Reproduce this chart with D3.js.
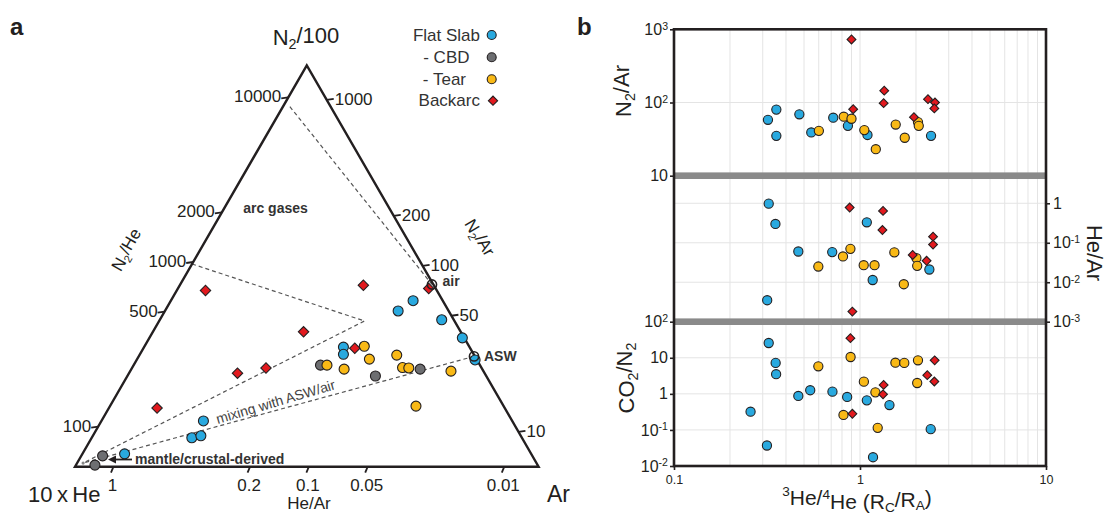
<!DOCTYPE html>
<html>
<head>
<meta charset="utf-8">
<script src="https://cdn.jsdelivr.net/npm/d3@7"></script>
<style>
  body { margin: 0; background: #fff; }
  svg { display: block; font-family: "Liberation Sans", Arial, sans-serif; }
</style>
</head>
<body>
<svg id="fig" width="1107" height="515"></svg>
<script>
// ---------- Panel a: ternary compositions, fractions [N2/100, 10xHe, Ar] ----------
const flatSlabTern = [
  [0.414, 0.064, 0.523], [0.388, 0.109, 0.503], [0.366, 0.026, 0.608],
  [0.321, 0.004, 0.675], [0.266, 0.004, 0.730], [0.298, 0.272, 0.430],
  [0.280, 0.281, 0.439], [0.114, 0.666, 0.220], [0.072, 0.712, 0.216],
  [0.077, 0.690, 0.233], [0.032, 0.877, 0.091]
];
const cbdTern = [
  [0.253, 0.344, 0.403], [0.226, 0.239, 0.535], [0.243, 0.134, 0.623],
  [0.027, 0.927, 0.046], [0.004, 0.955, 0.041]
];
const tearTern = [
  [0.300, 0.226, 0.474], [0.253, 0.330, 0.417], [0.243, 0.298, 0.459],
  [0.268, 0.231, 0.501], [0.278, 0.167, 0.555], [0.247, 0.170, 0.583],
  [0.246, 0.157, 0.597], [0.238, 0.070, 0.692], [0.151, 0.189, 0.660]
];
const backarcTern = [
  [0.439, 0.499, 0.062], [0.452, 0.152, 0.396], [0.444, 0.015, 0.541],
  [0.336, 0.339, 0.325], [0.295, 0.249, 0.456], [0.233, 0.533, 0.234],
  [0.246, 0.465, 0.289], [0.146, 0.750, 0.104]
];
// reference end-members as ratios to Ar
const airRatios = { n2ar: 83.6, hear: 0.00056 };
const aswRatios = { n2ar: 38.0, hear: 0.00026 };
// mixing-field vertices [N2/100, 10xHe, Ar]
const arcEndMember = [0.897, 0.088, 0.015];
const arcFieldEdge = [0.505, 0.495, 0.0];
const arcFieldApex = [0.363, 0.194, 0.443];
const mantleEndMember = [0.009, 0.978, 0.013];

// edge tick values
const n2heTicks = [10000, 2000, 1000, 500, 100];
const n2arEdgeTicks = [1000, 200, 100, 50, 10];
const hearEdgeTicks = [1, 0.2, 0.1, 0.05, 0.01];
const hearEdgeLabels = ["1", "0.2", "0.1", "0.05", "0.01"];

// ---------- Panel b: [3He/4He (Rc/Ra), value] ----------
const flatSlabN2Ar = [[0.32, 58], [0.355, 80], [0.355, 35], [0.472, 69], [0.547, 39],
  [0.718, 62], [0.861, 48], [1.097, 36], [2.41, 35]];
const tearN2Ar = [[0.601, 41], [0.818, 64], [0.90, 60], [1.055, 42], [1.216, 23],
  [1.556, 50], [1.74, 33], [2.05, 54], [2.07, 48]];
const backarcN2Ar = [[0.90, 726], [0.919, 81], [1.35, 145], [1.34, 98], [1.95, 63],
  [2.32, 111], [2.53, 100], [2.51, 83]];

const flatSlabHeAr = [[0.323, 0.98], [0.351, 0.30], [0.466, 0.060], [0.709, 0.058],
  [1.088, 0.33], [1.17, 0.0114], [2.36, 0.021], [0.317, 0.0035]];
const tearHeAr = [[0.597, 0.025], [0.81, 0.045], [0.888, 0.07], [1.047, 0.027],
  [1.197, 0.027], [1.53, 0.057], [1.72, 0.0089], [2.01, 0.041], [2.03, 0.026]];
const backarcHeAr = [[0.88, 0.78], [1.33, 0.64], [1.32, 0.21], [2.47, 0.143],
  [2.47, 0.090], [1.92, 0.049], [2.28, 0.035], [0.91, 0.0018]];

const flatSlabCO2N2 = [[0.323, 25.7], [0.352, 7.2], [0.354, 3.5], [0.466, 0.875],
  [0.54, 1.26], [0.711, 1.15], [0.853, 0.82], [1.088, 0.66], [1.44, 0.49],
  [0.258, 0.32], [0.316, 0.037], [1.175, 0.0175], [2.40, 0.105]];
const tearCO2N2 = [[0.597, 5.8], [0.89, 10.5], [1.049, 2.18], [1.21, 1.1],
  [0.815, 0.26], [1.245, 0.114], [1.55, 7.3], [1.73, 7.2], [2.05, 8.5], [2.03, 2.0]];
const backarcCO2N2 = [[0.888, 35], [1.34, 1.77], [1.33, 0.97], [2.30, 3.3],
  [2.52, 8.5], [2.51, 2.2], [0.91, 0.28]];

const xTicksB = [0.1, 1, 10];
const xGridB = [0.2, 0.3, 0.4, 0.5, 0.6, 0.7, 0.8, 0.9, 1, 2, 3, 4, 5, 6, 7, 8, 9];
const n2arTicks = [10, 100, 1000];
const hearTicks = [0.001, 0.01, 0.1, 1];
const co2n2Ticks = [0.01, 0.1, 1, 10, 100];
const n2arGrid = [100];
const hearGrid = [0.01, 0.1, 1];
const co2n2Grid = [0.1, 1, 10];

const legendLabels = ["Flat Slab", "- CBD", "- Tear", "Backarc"];
const colors = { flat: "#29A9DF", cbd: "#6D6E71", tear: "#F9B916", back: "#E2191E" };
const ink = "#231F20";

const svg = d3.select("#fig");

// ---------- helpers ----------
function diamondPath(area) {
  return d3.symbol(d3.symbolSquare, area)();
}
function drawMarks(g, pts, fx, fy, color, shape, r) {
  if (shape === "circle") {
    g.selectAll(null).data(pts).join("circle")
      .attr("cx", d => fx(d)).attr("cy", d => fy(d)).attr("r", r)
      .attr("fill", color).attr("stroke", ink).attr("stroke-width", 1.1);
  } else {
    g.selectAll(null).data(pts).join("path")
      .attr("d", diamondPath(2 * r * r))
      .attr("transform", d => `translate(${fx(d)},${fy(d)}) rotate(45)`)
      .attr("fill", color).attr("stroke", ink).attr("stroke-width", 1.1);
  }
}
function subText(t, parts, subDrop) {
  // parts: [text, mode] mode: "n" normal, "sub", "sup"
  const drop = subDrop === undefined ? 0.3 : subDrop;
  let shift = 0;
  parts.forEach(([s, m]) => {
    const target = m === "sub" ? drop : m === "sup" ? -0.45 : 0;
    const ts = t.append("tspan").text(s).attr("dy", (target - shift) + "em");
    if (m !== "n") ts.attr("font-size", "0.65em");
    shift = target;
  });
}

// ---------- Panel a ----------
const A = svg.append("g");
const triX = d3.scaleLinear().domain([0, 1]).range([75, 538.6]);
const triY = d3.scaleLinear().domain([0, 1]).range([466.7, 65.3]);
function tern(p) {
  const s = p[0] + p[1] + p[2];
  const a = p[0] / s, c = p[2] / s;
  return [triX(c + a / 2), triY(a)];
}
function fromRatios(r) { return [r.n2ar / 100, 10 * r.hear, 1]; }

// dashed mixing lines
const dashed = A.append("g").attr("fill", "none").attr("stroke", "#555")
  .attr("stroke-width", 1.2).attr("stroke-dasharray", "4,3");
const line = d3.line();
dashed.append("path").attr("d", line([tern(arcEndMember), tern(fromRatios(airRatios))]));
dashed.append("path").attr("d", line([tern(arcFieldEdge), tern(arcFieldApex), tern(mantleEndMember)]));
dashed.append("path").attr("d", line([tern(fromRatios(aswRatios)), tern(mantleEndMember)]));
A.append("circle").attr("cx", tern(mantleEndMember)[0]).attr("cy", tern(mantleEndMember)[1])
  .attr("r", 1.6).attr("fill", "#888");

// triangle outline
A.append("path")
  .attr("d", line([tern([1, 0, 0]), tern([0, 1, 0]), tern([0, 0, 1])]) + "Z")
  .attr("fill", "none").attr("stroke", ink).attr("stroke-width", 2.4).attr("stroke-linejoin", "miter");

// edge ticks
const leftTickScale = d3.scaleLog().domain([100, 10000]).range([0.10, 0.92]);
const rightTickScale = d3.scaleLog().domain([10, 1000]).range([0.087, 0.914]);
const bottomTickScale = d3.scaleLog().domain([0.01, 1]).range([0.926, 0.083]);
const tickG = A.append("g").attr("stroke", ink).attr("stroke-width", 1.8);
const tickT = A.append("g").attr("font-size", 17).attr("fill", ink);

n2heTicks.forEach(v => {
  const a = leftTickScale(v), p = tern([a, 1 - a, 0]);
  tickG.append("line").attr("x1", p[0]).attr("y1", p[1]).attr("x2", p[0] - 7).attr("y2", p[1] + 1);
  tickT.append("text").attr("x", p[0] - 7).attr("y", p[1] + 5).attr("text-anchor", "end").text(v);
});
n2arEdgeTicks.forEach(v => {
  const a = rightTickScale(v), p = tern([a, 0, 1 - a]);
  tickG.append("line").attr("x1", p[0]).attr("y1", p[1]).attr("x2", p[0] + 7).attr("y2", p[1] - 1);
  tickT.append("text").attr("x", p[0] + 8).attr("y", p[1] + 5).attr("text-anchor", "start").text(v);
});
hearEdgeTicks.forEach((v, i) => {
  const c = bottomTickScale(v), p = tern([0, 1 - c, c]);
  tickG.append("line").attr("x1", p[0]).attr("y1", p[1]).attr("x2", p[0] - 2.5).attr("y2", p[1] + 6);
  tickT.append("text").attr("x", p[0] - 1).attr("y", 491).attr("text-anchor", "middle").text(hearEdgeLabels[i]);
});

// data marks
const tx = d => tern(d)[0], ty = d => tern(d)[1];
drawMarks(A.append("g"), flatSlabTern, tx, ty, colors.flat, "circle", 5);
drawMarks(A.append("g"), cbdTern, tx, ty, colors.cbd, "circle", 5);
drawMarks(A.append("g"), tearTern, tx, ty, colors.tear, "circle", 5);
drawMarks(A.append("g"), backarcTern, tx, ty, colors.back, "diamond", 5.2);

// reference points
[airRatios, aswRatios].forEach(r => {
  const p = tern(fromRatios(r));
  A.append("circle").attr("cx", p[0]).attr("cy", p[1]).attr("r", 4.6)
    .attr("fill", "none").attr("stroke", ink).attr("stroke-width", 1.6);
});

// annotations
const ann = A.append("g").attr("font-weight", "bold").attr("font-size", 14).attr("fill", "#333");
ann.append("text").attr("x", 275.5).attr("y", 213).attr("text-anchor", "middle").text("arc gases");
ann.append("text").attr("x", 442.5).attr("y", 286).text("air");
ann.append("text").attr("x", 484).attr("y", 361).text("ASW");
ann.append("text").attr("x", 135).attr("y", 463.5).text("mantle/crustal-derived");
A.append("text").attr("transform", "translate(277,406.5) rotate(-16.5)")
  .attr("text-anchor", "middle").attr("font-size", 14).attr("fill", "#444").text("mixing with ASW/air");
// arrow toward the mantle end-member
A.append("line").attr("x1", 132).attr("y1", 459.5).attr("x2", 114).attr("y2", 459.5)
  .attr("stroke", ink).attr("stroke-width", 1.8);
A.append("path").attr("d", "M108,459.5 L116,455.5 L116,463.5 Z").attr("fill", ink);

// axis titles
const t1 = A.append("text").attr("x", 306).attr("y", 45).attr("text-anchor", "middle")
  .attr("font-size", 22).attr("fill", ink);
subText(t1, [["N", "n"], ["2", "sub"], ["/100", "n"]]);
A.append("text").attr("x", 28).attr("y", 501.5).attr("font-size", 22).attr("fill", ink)
  .text("10\u2009x\u2009He");
A.append("text").attr("x", 547).attr("y", 501.5).attr("font-size", 23).attr("fill", ink).text("Ar");
A.append("text").attr("x", 309).attr("y", 509).attr("text-anchor", "middle")
  .attr("font-size", 17).attr("fill", ink).text("He/Ar");
const t2 = A.append("text").attr("transform", "translate(132,253) rotate(-60)")
  .attr("text-anchor", "middle").attr("font-size", 17).attr("fill", ink);
subText(t2, [["N", "n"], ["2", "sub"], ["/He", "n"]]);
const t3 = A.append("text").attr("transform", "translate(474,241) rotate(60)")
  .attr("text-anchor", "middle").attr("font-size", 17).attr("fill", ink);
subText(t3, [["N", "n"], ["2", "sub"], ["/Ar", "n"]]);

// legend
const legShapes = [[colors.flat, "circle"], [colors.cbd, "circle"], [colors.tear, "circle"], [colors.back, "diamond"]];
const legY = [35, 57.3, 79.3, 100.7];
const legTextX = [480, 469.5, 466, 480];
legendLabels.forEach((lab, i) => {
  A.append("text").attr("x", legTextX[i]).attr("y", legY[i] + 5.5).attr("text-anchor", "end")
    .attr("font-size", 17).attr("fill", "#333").text(lab);
  drawMarks(A.append("g"), [0], () => i === 3 ? 493 : 491.7, () => legY[i], legShapes[i][0], legShapes[i][1], i === 3 ? 4.6 : 4.5);
});

svg.append("text").attr("x", 10).attr("y", 35).attr("font-size", 24).attr("font-weight", "bold")
  .attr("fill", ink).text("a");
svg.append("text").attr("x", 577).attr("y", 35).attr("font-size", 24).attr("font-weight", "bold")
  .attr("fill", ink).text("b");

// ---------- Panel b ----------
const B = svg.append("g");
const x0 = 674, x1 = 1046, yTop = 29.3, yBot = 466;
const xB = d3.scaleLog().domain([0.1, 10]).range([x0, x1]);
const yN2Ar = d3.scaleLog().domain([10, 1000]).range([175.7, yTop]);
const yHeAr = d3.scaleLog().domain([0.001, 5]).range([321.7, 175.7]);
const yCO2 = d3.scaleLog().domain([0.01, 100]).range([yBot, 321.7]);

// grid
const grid = B.append("g").attr("stroke", "#e4e4e4").attr("stroke-width", 1);
xGridB.forEach(v => grid.append("line").attr("x1", xB(v)).attr("x2", xB(v)).attr("y1", yTop).attr("y2", yBot));
n2arGrid.forEach(v => grid.append("line").attr("x1", x0).attr("x2", x1).attr("y1", yN2Ar(v)).attr("y2", yN2Ar(v)));
hearGrid.forEach(v => grid.append("line").attr("x1", x0).attr("x2", x1).attr("y1", yHeAr(v)).attr("y2", yHeAr(v)));
co2n2Grid.forEach(v => grid.append("line").attr("x1", x0).attr("x2", x1).attr("y1", yCO2(v)).attr("y2", yCO2(v)));

// separator bands between stacked panels
[yN2Ar(10), yHeAr(0.001)].forEach(y => {
  B.append("rect").attr("x", x0).attr("y", y - 3.3).attr("width", x1 - x0).attr("height", 6.6).attr("fill", "#8a8a8a");
});

// marks
drawMarks(B.append("g"), flatSlabN2Ar, d => xB(d[0]), d => yN2Ar(d[1]), colors.flat, "circle", 4.6);
drawMarks(B.append("g"), tearN2Ar, d => xB(d[0]), d => yN2Ar(d[1]), colors.tear, "circle", 4.6);
drawMarks(B.append("g"), backarcN2Ar, d => xB(d[0]), d => yN2Ar(d[1]), colors.back, "diamond", 4.4);
drawMarks(B.append("g"), flatSlabHeAr, d => xB(d[0]), d => yHeAr(d[1]), colors.flat, "circle", 4.6);
drawMarks(B.append("g"), tearHeAr, d => xB(d[0]), d => yHeAr(d[1]), colors.tear, "circle", 4.6);
drawMarks(B.append("g"), backarcHeAr, d => xB(d[0]), d => yHeAr(d[1]), colors.back, "diamond", 4.4);
drawMarks(B.append("g"), flatSlabCO2N2, d => xB(d[0]), d => yCO2(d[1]), colors.flat, "circle", 4.6);
drawMarks(B.append("g"), tearCO2N2, d => xB(d[0]), d => yCO2(d[1]), colors.tear, "circle", 4.6);
drawMarks(B.append("g"), backarcCO2N2, d => xB(d[0]), d => yCO2(d[1]), colors.back, "diamond", 4.4);

// frame
B.append("rect").attr("x", x0).attr("y", yTop).attr("width", x1 - x0).attr("height", yBot - yTop)
  .attr("fill", "none").attr("stroke", ink).attr("stroke-width", 2.6);

// axes
function powLabels(sel) {
  sel.selectAll(".tick text").each(function (d) {
    const t = d3.select(this);
    const e = Math.round(Math.log10(d));
    t.text(null);
    if (e === 0) t.text("1");
    else if (e === 1) t.text("10");
    else {
      t.append("tspan").text("10");
      t.append("tspan").attr("dy", "-0.5em").attr("font-size", "0.66em").text(e);
    }
  });
}
function styleAxis(g, size) {
  g.select(".domain").remove();
  g.attr("font-family", null).attr("font-size", size);
  g.selectAll(".tick line").attr("stroke", ink).attr("stroke-width", 1.6);
  g.selectAll(".tick text").attr("fill", ink);
}
const gN2 = B.append("g").attr("transform", `translate(${x0},0)`)
  .call(d3.axisLeft(yN2Ar).tickValues(n2arTicks).tickSize(4).tickPadding(2));
styleAxis(gN2, 16); powLabels(gN2);
const gCO2 = B.append("g").attr("transform", `translate(${x0},0)`)
  .call(d3.axisLeft(yCO2).tickValues(co2n2Ticks).tickSize(4).tickPadding(2));
styleAxis(gCO2, 16); powLabels(gCO2);
const gHe = B.append("g").attr("transform", `translate(${x1},0)`)
  .call(d3.axisRight(yHeAr).tickValues(hearTicks).tickSize(4).tickPadding(3));
styleAxis(gHe, 16); powLabels(gHe);
const gX = B.append("g").attr("transform", `translate(0,${yBot})`)
  .call(d3.axisBottom(xB).tickValues(xTicksB).tickSize(4).tickFormat(d3.format("~g")).tickPadding(5));
styleAxis(gX, 12.5);

// axis titles
const yt1 = B.append("text").attr("transform", "translate(631,91) rotate(-90)")
  .attr("text-anchor", "middle").attr("font-size", 22).attr("fill", ink);
subText(yt1, [["N", "n"], ["2", "sub"], ["/Ar", "n"]]);
const yt2 = B.append("text").attr("transform", "translate(634,378) rotate(-90)")
  .attr("text-anchor", "middle").attr("font-size", 22).attr("fill", ink);
subText(yt2, [["CO", "n"], ["2", "sub"], ["/N", "n"], ["2", "sub"]]);
B.append("text").attr("transform", "translate(1087,253) rotate(90)")
  .attr("text-anchor", "middle").attr("font-size", 22).attr("fill", ink).text("He/Ar");
const xt = B.append("text").attr("x", 857).attr("y", 502).attr("text-anchor", "middle")
  .attr("font-size", 21).attr("fill", ink);
subText(xt, [["3", "sup"], ["He/", "n"], ["4", "sup"], ["He (R", "n"], ["C", "sub"], ["/R", "n"], ["A", "sub"], [")", "n"]], 0.22);
</script>
</body>
</html>
